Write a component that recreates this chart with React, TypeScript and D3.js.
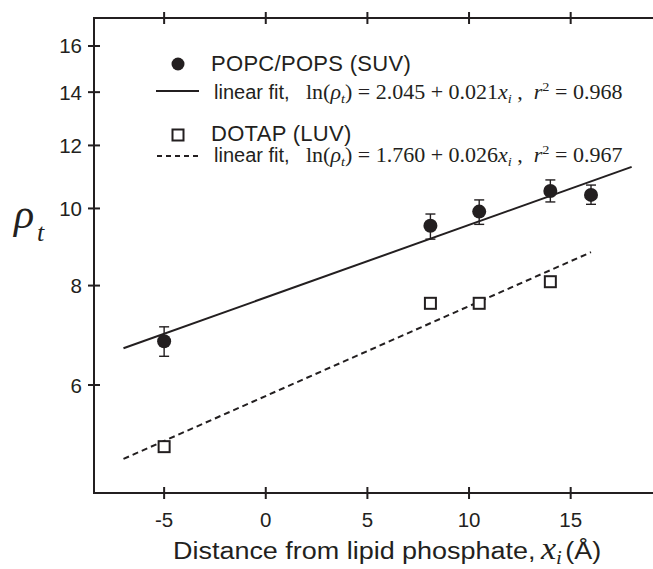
import React from "react";
import * as d3 from "d3";

// ---- data ----
const xTicks = [-5, 0, 5, 10, 15];
const yTicks = [6, 8, 10, 12, 14, 16];

const popcX = [-5, 8.1, 10.5, 14, 16];
const popcY = [6.81, 9.51, 9.91, 10.52, 10.4];
const popcHi = [7.1, 9.84, 10.25, 10.86, 10.7];
const popcLo = [6.52, 9.15, 9.55, 10.19, 10.12];

const dotapX = [-5, 8.1, 10.5, 14];
const dotapY = [5.02, 7.6, 7.6, 8.09];

const fitPopc = { a: 2.045, b: 0.021, x0: -7, x1: 18 };
const fitDotap = { a: 1.76, b: 0.026, x0: -7, x1: 16 };

const W = 653;
const H = 569;
const INK = "#231f20";
const SANS = "'Liberation Sans', Arial, Helvetica, sans-serif";
const SERIF = "'Liberation Serif', 'Times New Roman', serif";

const x = d3.scaleLinear().domain([-8.45, 19.05]).range([94, 653]);
const y = d3.scaleLog().domain([4.39, 17.35]).range([493, 18]);

function fitPath(f: { a: number; b: number; x0: number; x1: number }) {
  const pts: [number, number][] = [f.x0, f.x1].map((v) => [x(v), y(Math.exp(f.a + f.b * v))]);
  return d3.line()(pts) as string;
}

function MathEq({ xPos, yPos, a, b, r2 }: { xPos: number; yPos: number; a: string; b: string; r2: string }) {
  const fs = 20;
  const sub = 13;
  return (
    <g transform={`translate(${xPos},${yPos}) scale(1.1,1)`}>
      <text x={0} y={0} fontFamily={SERIF} fontSize={fs} fill={INK} style={{ whiteSpace: "pre" }}>
        <tspan>ln(</tspan>
        <tspan fontStyle="italic">ρ</tspan>
        <tspan fontStyle="italic" fontSize={sub} dy={4}>t</tspan>
        <tspan dy={-4}>{`) = ${a} + ${b}`}</tspan>
        <tspan fontStyle="italic">x</tspan>
        <tspan fontStyle="italic" fontSize={sub} dy={4}>i</tspan>
        <tspan dy={-4}>{" ,  "}</tspan>
        <tspan fontStyle="italic">r</tspan>
        <tspan fontSize={sub} dy={-8}>2</tspan>
        <tspan dy={8}>{` = ${r2}`}</tspan>
      </text>
    </g>
  );
}

export default function App() {
  const yTop = 18;
  const yBot = 493;
  const xLeft = 94;
  return (
    <svg width={W} height={H} style={{ position: "absolute", left: 0, top: 0, background: "#fff" }}>
      <rect width={W} height={H} fill="#fff" />
      {/* axes */}
      <path d={`M${W},${yTop}H${xLeft}V${yBot}H${W}`} fill="none" stroke={INK} strokeWidth={2} />
      {xTicks.map((t) => (
        <g key={"xt" + t}>
          <line x1={x(t)} x2={x(t)} y1={yBot - 6} y2={yBot + 6} stroke={INK} strokeWidth={2} />
          <line x1={x(t)} x2={x(t)} y1={yTop - 6} y2={yTop + 6} stroke={INK} strokeWidth={2} />
          <text x={x(t)} y={527} textAnchor="middle" fontFamily={SANS} fontSize={20.5} fill={INK}>
            {t}
          </text>
        </g>
      ))}
      {yTicks.map((t) => (
        <g key={"yt" + t}>
          <line x1={xLeft - 6} x2={xLeft + 6} y1={y(t)} y2={y(t)} stroke={INK} strokeWidth={2} />
          <text x={82} y={y(t) + 7.5} textAnchor="end" fontFamily={SANS} fontSize={20.5} fill={INK}>
            {t}
          </text>
        </g>
      ))}

      {/* fit lines */}
      <path d={fitPath(fitPopc)} fill="none" stroke={INK} strokeWidth={2} />
      <path d={fitPath(fitDotap)} fill="none" stroke={INK} strokeWidth={2} strokeDasharray="6,4" />

      {/* error bars */}
      {popcX.map((v, i) => (
        <g key={"e" + i} stroke={INK} strokeWidth={1.4}>
          <line x1={x(v)} x2={x(v)} y1={y(popcHi[i])} y2={y(popcLo[i])} />
          <line x1={x(v) - 5} x2={x(v) + 5} y1={y(popcHi[i])} y2={y(popcHi[i])} />
          <line x1={x(v) - 5} x2={x(v) + 5} y1={y(popcLo[i])} y2={y(popcLo[i])} />
        </g>
      ))}
      {/* points */}
      {popcX.map((v, i) => (
        <circle key={"p" + i} cx={x(v)} cy={y(popcY[i])} r={7} fill={INK} />
      ))}
      {dotapX.map((v, i) => (
        <rect key={"d" + i} x={x(v) - 5.5} y={y(dotapY[i]) - 5.5} width={11} height={11} fill="#fff" stroke={INK} strokeWidth={2} />
      ))}

      {/* legend */}
      <circle cx={178} cy={64} r={6.5} fill={INK} />
      <text x={211} y={71} fontFamily={SANS} fontSize={22} letterSpacing={0.3} fill={INK}>
        POPC/POPS (SUV)
      </text>
      <line x1={156} x2={199} y1={91} y2={91} stroke={INK} strokeWidth={2} />
      <text x={214} y={99} fontFamily={SANS} fontSize={20} fill={INK}>
        linear fit,
      </text>
      <MathEq xPos={306} yPos={99} a="2.045" b="0.021" r2="0.968" />

      <rect x={172.5} y={129.5} width={11} height={11} fill="#fff" stroke={INK} strokeWidth={2} />
      <text x={211} y={141} fontFamily={SANS} fontSize={22} letterSpacing={0.3} fill={INK}>
        DOTAP (LUV)
      </text>
      <line x1={157} x2={199} y1={156} y2={156} stroke={INK} strokeWidth={1.8} strokeDasharray="5,4" />
      <text x={214} y={162} fontFamily={SANS} fontSize={20} fill={INK}>
        linear fit,
      </text>
      <MathEq xPos={306} yPos={162} a="1.760" b="0.026" r2="0.967" />

      {/* axis titles */}
      <text x={14} y={228} fontFamily={SERIF} fontStyle="italic" fontSize={42} fill={INK}>
        ρ
      </text>
      <text x={37} y={241} fontFamily={SERIF} fontStyle="italic" fontSize={26} fill={INK}>
        t
      </text>
      <g transform="translate(173,559) scale(1.1,1)">
        <text x={0} y={0} fontFamily={SANS} fontSize={24.5} fill={INK} style={{ whiteSpace: "pre" }}>
          <tspan>Distance from lipid phosphate,</tspan>
          <tspan fontFamily={SERIF} fontStyle="italic" fontSize={31} dx={5}>x</tspan>
          <tspan fontFamily={SERIF} fontStyle="italic" fontSize={19} dy={5}>i</tspan>
          <tspan dy={-5} dx={3}>(Å)</tspan>
        </text>
      </g>
    </svg>
  );
}
